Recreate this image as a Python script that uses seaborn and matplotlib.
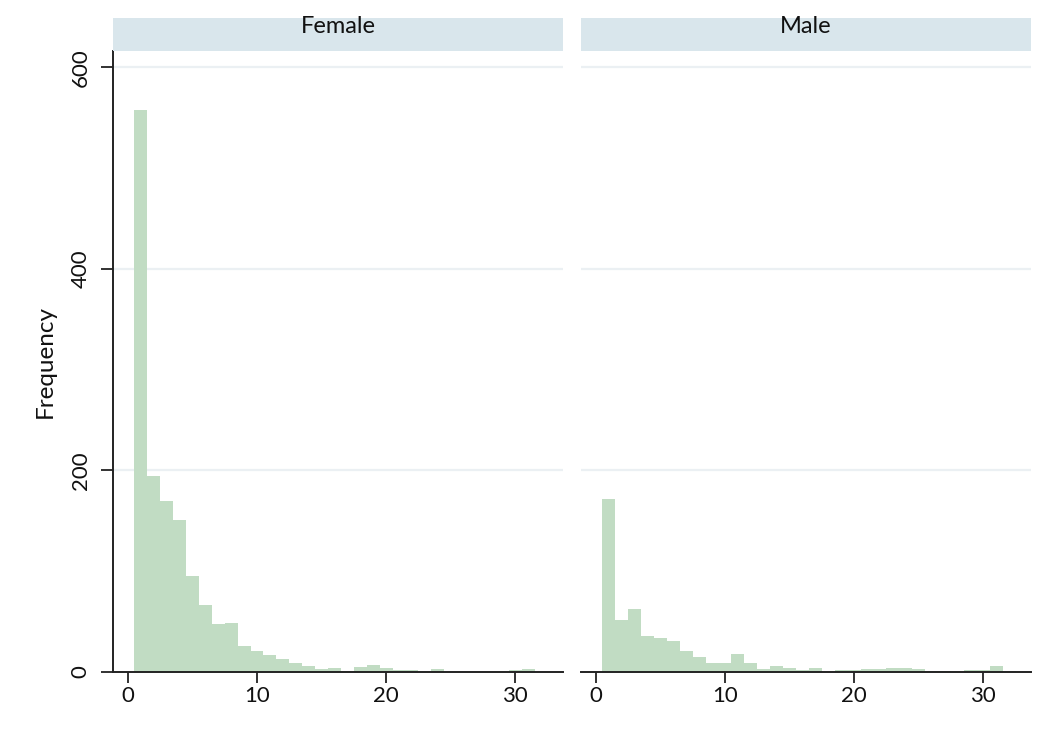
import matplotlib
matplotlib.use("Agg")
import matplotlib.pyplot as plt
import numpy as np
import pandas as pd
import seaborn as sns
from matplotlib.patches import Rectangle

# ---- data (bin centres are integer values, bins of width 1) ----
values = list(range(1, 33))
female_counts = [557, 194, 170, 151, 95, 66, 48, 49, 26, 21, 17, 13, 9, 6, 3, 4,
                 1, 5, 7, 4, 2, 2, 0, 3, 0, 0, 0, 0, 0, 2, 3, 0]
male_counts = [172, 52, 62, 36, 34, 31, 21, 15, 9, 9, 18, 9, 3, 6, 4, 2,
               4, 0, 2, 2, 3, 3, 4, 4, 3, 1, 1, 0, 2, 2, 6, 1]
panels = ["Female", "Male"]
y_ticks = [0, 200, 400, 600]
x_ticks = [0, 10, 20, 30]
y_label = "Frequency"

df = pd.DataFrame({
    "value": values * 2,
    "count": female_counts + male_counts,
    "sex": ["Female"] * len(values) + ["Male"] * len(values),
})

sns.set_style("white")
plt.rcParams["font.family"] = ["Lato", "DejaVu Sans"]

W, H = 1048, 737
fig = plt.figure(figsize=(W / 100, H / 100), dpi=100)

bar_color = "#c1dcc3"
strip_color = "#d9e6ec"
grid_color = "#ebf0f3"

ax_top, ax_bot = 51, 672
lefts = [113, 581]
width = 450

axes = []
for i, name in enumerate(panels):
    ax = fig.add_axes([lefts[i] / W, (H - ax_bot) / H, width / W, (ax_bot - ax_top) / H])
    axes.append(ax)
    sub = df[df["sex"] == name]
    sns.histplot(data=sub, x="value", weights="count", binwidth=1, binrange=(0.5, 32.5),
                 color=bar_color, alpha=1, linewidth=0, edgecolor=bar_color, ax=ax, zorder=2)
    ax.set_xlim(-1.15, 33.7)
    ax.set_ylim(0, 616)
    for yv in y_ticks[1:]:
        ax.axhline(yv, color=grid_color, lw=1.6, zorder=1)
    ax.set_xticks(x_ticks)
    ax.set_xlabel("")
    ax.tick_params(axis="x", length=8, width=1.3, color="#222222", labelsize=16, pad=2,
                   bottom=True, direction="out", labelcolor="#111111")
    for sp in ["top", "right"]:
        ax.spines[sp].set_visible(False)
    ax.spines["bottom"].set_linewidth(1.4)
    ax.spines["bottom"].set_color("#222222")
    if i == 0:
        ax.set_yticks(y_ticks)
        ax.tick_params(axis="y", length=9, width=1.3, color="#222222", labelsize=16,
                       pad=7, left=True, direction="out", labelrotation=90,
                       labelcolor="#111111")
        for lab in ax.get_yticklabels():
            lab.set_va("center")
        ax.spines["left"].set_linewidth(1.4)
        ax.spines["left"].set_color("#222222")
        ax.set_ylabel(y_label, fontsize=17.5, color="#111111")
        ax.yaxis.set_label_coords((56 - 113) / width, 0.5)
    else:
        ax.set_yticks(y_ticks)
        ax.set_yticklabels([])
        ax.tick_params(axis="y", left=False, length=0)
        ax.spines["left"].set_visible(False)
        ax.set_ylabel("")
    # strip
    h_ax = ax_bot - ax_top
    ax.add_patch(Rectangle((0, 1.0), 1.0, 33 / h_ax, transform=ax.transAxes,
                           facecolor=strip_color, edgecolor="none", clip_on=False, zorder=3))
    ax.text(0.5, (ax_bot - 33) / h_ax, name, transform=ax.transAxes, ha="center",
            va="baseline", fontsize=17, color="#111111", zorder=4)

fig.savefig("out.png", dpi=100)
